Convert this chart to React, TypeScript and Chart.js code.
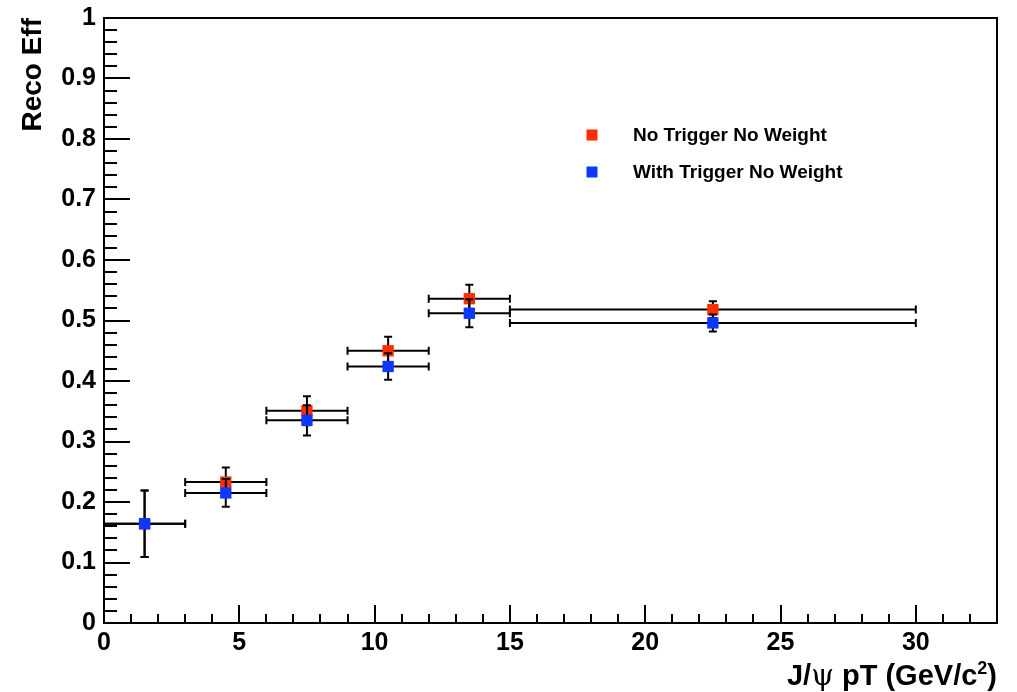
import React, { useEffect, useRef } from 'react';
import { Chart, registerables } from 'chart.js';

Chart.register(...registerables);

// ---- data ----
const binCenters = [1.5, 4.5, 7.5, 10.5, 13.5, 22.5];
const binHalfWidths = [1.5, 1.5, 1.5, 1.5, 1.5, 7.5];
const noTriggerEff = [0.164, 0.233, 0.351, 0.45, 0.536, 0.518];
const noTriggerErr = [0.055, 0.024, 0.024, 0.023, 0.023, 0.014];
const withTriggerEff = [0.164, 0.215, 0.335, 0.424, 0.512, 0.496];
const withTriggerErr = [0.055, 0.023, 0.025, 0.022, 0.023, 0.014];
const seriesLabels = ['No Trigger No Weight', 'With Trigger No Weight'];
const seriesColors = ['#ff2e00', '#0d36ff'];
const xTickValues = [0, 5, 10, 15, 20, 25, 30];
const xTickLabels = ['0', '5', '10', '15', '20', '25', '30'];
const yTickValues = [0, 0.1, 0.2, 0.3, 0.4, 0.5, 0.6, 0.7, 0.8, 0.9, 1];
const yTickLabels = ['0', '0.1', '0.2', '0.3', '0.4', '0.5', '0.6', '0.7', '0.8', '0.9', '1'];
const xRange = [0, 33];
const yRange = [0, 1];
const yTitle = 'Reco Eff';

const FONT = '"Liberation Sans", Arial, Helvetica, sans-serif';
const effSets = [noTriggerEff, withTriggerEff];
const errSets = [noTriggerErr, withTriggerErr];

const rootPlugin = {
  id: 'rootStyle',
  beforeDatasetsDraw(chart: any) {
    const { ctx, chartArea: a, scales } = chart;
    const x = scales.x;
    const y = scales.y;
    ctx.save();
    ctx.strokeStyle = '#000';
    ctx.lineWidth = 2;
    ctx.lineCap = 'butt';
    ctx.beginPath();
    // y ticks (major every 0.1, minor every 0.02)
    for (let i = 0; i <= 50; i++) {
      const py = Math.round(y.getPixelForValue(i * 0.02));
      const len = i % 5 === 0 ? 26 : 13;
      ctx.moveTo(a.left, py);
      ctx.lineTo(a.left + len, py);
    }
    // x ticks (major every 5, minor every 1)
    for (let v = 1; v < 33; v++) {
      const px = Math.round(x.getPixelForValue(v));
      const len = v % 5 === 0 ? 18 : 9;
      ctx.moveTo(px, a.bottom);
      ctx.lineTo(px, a.bottom - len);
    }
    ctx.stroke();
    ctx.strokeRect(a.left, a.top, a.right - a.left, a.bottom - a.top);
    ctx.restore();
  },
  beforeDatasetDraw(chart: any, args: any) {
    const idx = args.index;
    const eff = effSets[idx];
    const err = errSets[idx];
    if (!eff) return;
    const { ctx, scales } = chart;
    const x = scales.x;
    const y = scales.y;
    ctx.save();
    ctx.strokeStyle = '#000';
    ctx.lineWidth = 2;
    ctx.beginPath();
    const cap = 4;
    for (let i = 0; i < eff.length; i++) {
      const cx = x.getPixelForValue(binCenters[i]);
      const cy = y.getPixelForValue(eff[i]);
      const xl = x.getPixelForValue(binCenters[i] - binHalfWidths[i]);
      const xr = x.getPixelForValue(binCenters[i] + binHalfWidths[i]);
      const yt = y.getPixelForValue(eff[i] + err[i]);
      const yb = y.getPixelForValue(eff[i] - err[i]);
      ctx.moveTo(xl, cy); ctx.lineTo(xr, cy);
      ctx.moveTo(xl, cy - cap); ctx.lineTo(xl, cy + cap);
      ctx.moveTo(xr, cy - cap); ctx.lineTo(xr, cy + cap);
      ctx.moveTo(cx, yt); ctx.lineTo(cx, yb);
      ctx.moveTo(cx - cap, yt); ctx.lineTo(cx + cap, yt);
      ctx.moveTo(cx - cap, yb); ctx.lineTo(cx + cap, yb);
    }
    ctx.stroke();
    ctx.restore();
  },
  afterDraw(chart: any) {
    const { ctx, chartArea: a } = chart;
    ctx.save();
    // legend
    const lx = a.left + 488;
    const ly = [a.top + 117, a.top + 154];
    ctx.font = `bold 19px ${FONT}`;
    ctx.textBaseline = 'middle';
    ctx.textAlign = 'left';
    for (let i = 0; i < seriesLabels.length; i++) {
      ctx.fillStyle = seriesColors[i];
      ctx.fillRect(lx - 5.5, ly[i] - 5.5, 11, 11);
      ctx.fillStyle = '#000';
      ctx.fillText(seriesLabels[i], lx + 41, ly[i] + 1);
    }
    // x-axis title: J/ψ pT (GeV/c²), right aligned to axis end
    const size = 29;
    const parts: [string, string, number][] = [
      ['J/', `bold ${size}px ${FONT}`, 0],
      ['\u03c8', `${size}px "DejaVu Serif", "Liberation Serif", serif`, 0],
      [' pT (GeV/c', `bold ${size}px ${FONT}`, 0],
      ['2', `bold ${Math.round(size * 0.62)}px ${FONT}`, -11],
      [')', `bold ${size}px ${FONT}`, 0],
    ];
    let total = 0;
    for (const p of parts) { ctx.font = p[1]; total += ctx.measureText(p[0]).width; }
    let tx = a.right - total;
    const base = 685;
    ctx.textAlign = 'left';
    ctx.textBaseline = 'alphabetic';
    ctx.fillStyle = '#000';
    for (const p of parts) {
      ctx.font = p[1];
      ctx.fillText(p[0], tx, base + p[2]);
      tx += ctx.measureText(p[0]).width;
    }
    ctx.restore();
  },
};

export default function App() {
  const ref = useRef<HTMLCanvasElement>(null);
  useEffect(() => {
    document.body.style.margin = '0';
    const canvas = ref.current!;
    const chart = new Chart(canvas, {
      type: 'scatter',
      data: {
        datasets: [0, 1].map((i) => ({
          label: seriesLabels[i],
          data: binCenters.map((c, k) => ({ x: c, y: effSets[i][k] })),
          backgroundColor: seriesColors[i],
          borderColor: seriesColors[i],
          borderWidth: 0,
          pointStyle: 'rect',
          pointRadius: 8,
          pointHoverRadius: 8,
          showLine: false,
          order: 2 - i,
        })),
      },
      options: {
        responsive: false,
        animation: false,
        devicePixelRatio: 1,
        layout: { padding: { left: 0, top: 18, right: 20, bottom: 0 } },
        plugins: { legend: { display: false }, tooltip: { enabled: false } },
        events: [],
        scales: {
          x: {
            type: 'linear',
            min: xRange[0],
            max: xRange[1],
            grid: { display: false, drawTicks: false },
            border: { display: false },
            afterBuildTicks: (s: any) => { s.ticks = xTickValues.map((v) => ({ value: v })); },
            afterFit: (s: any) => { s.height = 69; s.paddingLeft = 0; s.paddingRight = 0; },
            ticks: {
              autoSkip: false,
              maxRotation: 0,
              padding: 5,
              color: '#000',
              font: { family: FONT, size: 25, weight: 'bold' },
              callback: (_v: any, i: number) => xTickLabels[i],
            },
          },
          y: {
            type: 'linear',
            min: yRange[0],
            max: yRange[1],
            grid: { display: false, drawTicks: false },
            border: { display: false },
            afterBuildTicks: (s: any) => { s.ticks = yTickValues.map((v) => ({ value: v })); },
            afterFit: (s: any) => { s.width = 104; s.paddingTop = 0; s.paddingBottom = 0; },
            title: {
              display: true,
              text: yTitle,
              align: 'end',
              color: '#000',
              font: { family: FONT, size: 28, weight: 'bold' },
              padding: { top: 16, bottom: 0 },
            },
            ticks: {
              autoSkip: false,
              padding: 8,
              color: '#000',
              font: { family: FONT, size: 25, weight: 'bold' },
              callback: (_v: any, i: number) => yTickLabels[i],
            },
          },
        },
      },
      plugins: [rootPlugin],
    } as any);
    return () => chart.destroy();
  }, []);
  return (
    <div style={{ width: 1017, height: 692, background: '#fff' }}>
      <canvas ref={ref} width={1017} height={692} style={{ display: 'block' }} />
    </div>
  );
}
